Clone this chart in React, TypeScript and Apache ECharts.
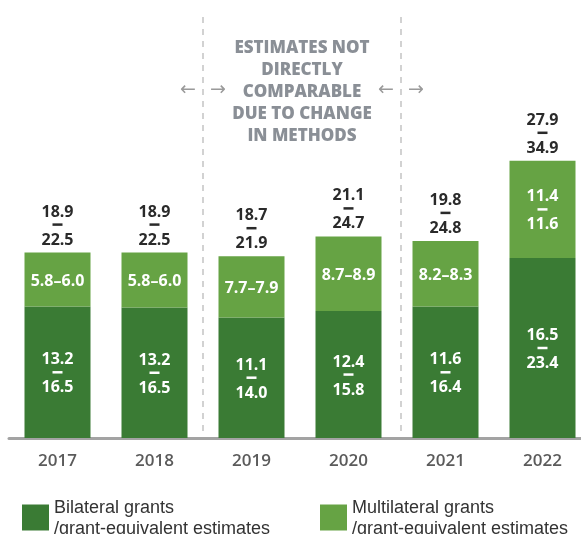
import React, { useEffect, useRef } from "react";
import * as echarts from "echarts";

const years = ["2017", "2018", "2019", "2020", "2021", "2022"];
// bar heights as drawn (USD billion)
const bilateralBar = [14.6, 14.5, 13.4, 14.1, 14.6, 20.0];
const multilateralBar = [6.0, 6.1, 6.8, 8.3, 7.3, 10.8];
// printed ranges
const bilateralLow = [13.2, 13.2, 11.1, 12.4, 11.6, 16.5];
const bilateralHigh = [16.5, 16.5, 14.0, 15.8, 16.4, 23.4];
const multilateralLow = [5.8, 5.8, 7.7, 8.7, 8.2, 11.4];
const multilateralHigh = [6.0, 6.0, 7.9, 8.9, 8.3, 11.6];
const totalLow = [18.9, 18.9, 18.7, 21.1, 19.8, 27.9];
const totalHigh = [22.5, 22.5, 21.9, 24.7, 24.8, 34.9];

const BIL = "Bilateral grants\n/grant-equivalent estimates";
const MUL = "Multilateral grants\n/grant-equivalent estimates";
const NOTE = "ESTIMATES NOT\nDIRECTLY\nCOMPARABLE\nDUE TO CHANGE\nIN METHODS";

const DARK = "#3a7b34";
const LIGHT = "#66a344";
const FONT = "'Open Sans', sans-serif";

const fmt = (v: number) => v.toFixed(1);
const stacked = (lo: number, hi: number) => `{n|${fmt(lo)}}\n{d|}\n{n|${fmt(hi)}}`;

export default function App() {
  const ref = useRef<HTMLDivElement>(null);
  useEffect(() => {
    const chart = echarts.init(ref.current!, null, { renderer: "svg" });
    const rich = (color: string) => ({
      n: { fontFamily: FONT, fontWeight: 700, fontSize: 16, lineHeight: 18, color, align: "center" },
      d: { width: 10, height: 2.5, lineHeight: 10, backgroundColor: color, align: "center" },
    });
    const legendText = { fontFamily: "'Liberation Sans', Arial, sans-serif", fontSize: 18, lineHeight: 20.5, color: "#333" };
    chart.setOption({
      animation: false,
      grid: { left: 9, right: 9, top: 78, bottom: 96 },
      legend: [
        { data: [BIL], left: 17, top: 492, itemWidth: 27, itemHeight: 26, itemGap: 0, icon: "rect", textStyle: legendText },
        { data: [MUL], left: 315, top: 492, itemWidth: 27, itemHeight: 26, itemGap: 0, icon: "rect", textStyle: legendText },
      ],
      xAxis: {
        type: "category",
        data: years,
        axisLine: { lineStyle: { color: "#a3a3a3", width: 3 } },
        axisTick: { show: false },
        axisLabel: { color: "#5b5b5b", fontSize: 17, fontWeight: 600, fontFamily: FONT, margin: 13 },
      },
      yAxis: { type: "value", min: 0, max: 40, show: false, splitLine: { show: false } },
      series: [
        {
          name: BIL,
          type: "bar",
          stack: "a",
          barWidth: 66,
          itemStyle: { color: DARK },
          data: bilateralBar,
          label: {
            show: true,
            position: "inside",
            rich: rich("#fff"),
            formatter: (p: any) => stacked(bilateralLow[p.dataIndex], bilateralHigh[p.dataIndex]),
          },
        },
        {
          name: MUL,
          type: "bar",
          stack: "a",
          barWidth: 66,
          itemStyle: { color: LIGHT },
          data: multilateralBar,
          label: {
            show: true,
            position: "inside",
            rich: rich("#fff"),
            formatter: (p: any) => {
              const lo = multilateralLow[p.dataIndex];
              const hi = multilateralHigh[p.dataIndex];
              return hi >= 10 ? stacked(lo, hi) : `{n|${fmt(lo)}–${fmt(hi)}}`;
            },
          },
        },
        {
          name: "Total",
          type: "bar",
          stack: "a",
          barWidth: 66,
          itemStyle: { color: "transparent" },
          data: years.map(() => 0),
          label: {
            show: true,
            position: "top",
            distance: 5,
            rich: rich("#2a2a2a"),
            formatter: (p: any) => stacked(totalLow[p.dataIndex], totalHigh[p.dataIndex]),
          },
        },
      ],
    });

    const xs = years.map((y) => chart.convertToPixel({ xAxisIndex: 0 }, y) as number);
    const baseY = chart.convertToPixel({ yAxisIndex: 0 }, 0) as number;
    const lineA = (xs[1] + xs[2]) / 2;
    const lineB = (xs[3] + xs[4]) / 2 + 4;
    const dash = { stroke: "#c4c4c4", lineWidth: 1.5, lineDash: [6, 6] };
    const arrowStyle = { fill: "#9a9a9a", fontSize: 19, fontFamily: "DejaVu Sans", align: "center", verticalAlign: "middle" };
    const arrows = (x: number) => [
      { type: "text", x: x - 15, y: 88, style: { text: "←", ...arrowStyle } },
      { type: "text", x: x + 15, y: 88, style: { text: "→", ...arrowStyle } },
    ];
    chart.setOption({
      graphic: [
        { type: "line", shape: { x1: lineA, y1: 17, x2: lineA, y2: baseY - 2 }, style: dash },
        { type: "line", shape: { x1: lineB, y1: 17, x2: lineB, y2: baseY - 2 }, style: dash },
        ...arrows(lineA),
        ...arrows(lineB),
        {
          type: "text",
          x: (lineA + lineB) / 2,
          y: 35,
          style: {
            text: NOTE,
            fill: "#8a8f96",
            fontFamily: FONT,
            fontWeight: 800,
            fontSize: 17,
            lineHeight: 22,
            align: "center",
            verticalAlign: "top",
          },
        },
      ],
    });
    return () => chart.dispose();
  }, []);
  return <div ref={ref} style={{ position: "fixed", left: 0, top: 0, width: 600, height: 534 }} />;
}
